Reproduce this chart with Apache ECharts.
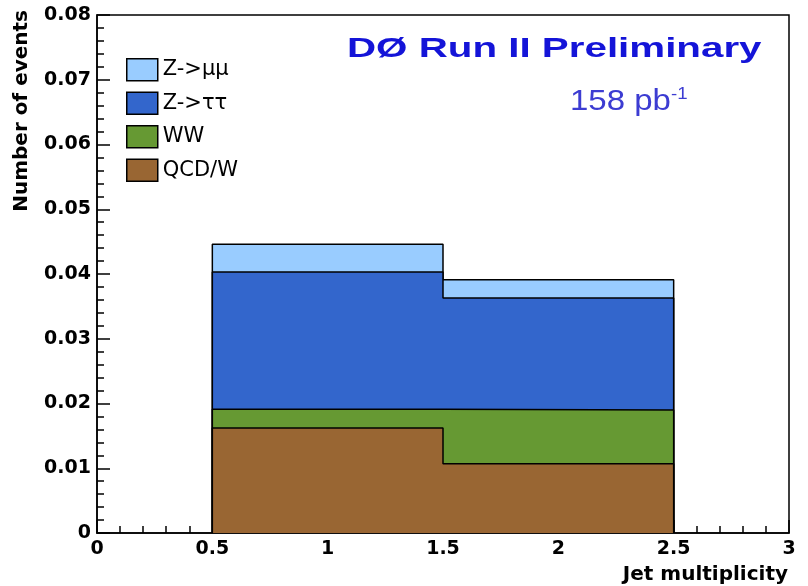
<!DOCTYPE html>
<html lang="en">
<head>
<meta charset="UTF-8">
<title>Jet multiplicity</title>
<script src="https://cdn.jsdelivr.net/npm/echarts@6/dist/echarts.min.js"></script>
<style>
  html, body { margin: 0; padding: 0; background: #fff; }
</style>
</head>
<body>
<div id="main" style="width: 808px;height: 586px"></div>
<script>
// bin edges of the histogram (jet multiplicity)
var binEdges = [0.5, 1.5, 2.5];
// per-bin contributions, bottom of the stack first
var qcdW    = [0.0162, 0.0107];
var ww      = [0.0029, 0.0083];
var zTauTau = [0.0212, 0.0173];
var zMuMu   = [0.0043, 0.0028];

var names  = ['Z->\u03bc\u03bc', 'Z->\u03c4\u03c4', 'WW', 'QCD/W'];
var colors = ['#99ccff', '#3366cc', '#669933', '#996633'];

// cumulative sums, like a THStack
function addArr(a, b) { return a.map(function (v, i) { return v + b[i]; }); }
var cumQcd = qcdW;
var cumWW  = addArr(cumQcd, ww);
var cumTau = addArr(cumWW, zTauTau);
var cumMu  = addArr(cumTau, zMuMu);

// outline of a histogram drawn from zero
function stepPoints(h) {
    var pts = [[binEdges[0], 0]];
    for (var i = 0; i < h.length; i++) {
        pts.push([binEdges[i], h[i]]);
        pts.push([binEdges[i + 1], h[i]]);
    }
    pts.push([binEdges[h.length], 0]);
    return pts;
}

var stacks = [cumMu, cumTau, cumWW, cumQcd];
var series = stacks.map(function (h, k) {
    return {
        name: names[k],
        type: 'line',
        data: stepPoints(h),
        symbol: 'none',
        itemStyle: { color: colors[k] },
        lineStyle: { color: '#000', width: 1.5 },
        areaStyle: { color: colors[k], opacity: 1 },
        z: 2 + k
    };
});

var tickFont = { color: '#000', fontFamily: 'DejaVu Sans', fontWeight: 'bold', fontSize: 19 };

var option = {
    backgroundColor: '#fff',
    animation: false,
    grid: {
        left: 97, right: 19, top: 15, bottom: 53,
        show: true, borderColor: '#000', borderWidth: 1.5
    },
    legend: {
        orient: 'vertical',
        left: 121, top: 53,
        itemWidth: 31, itemHeight: 22, itemGap: 10,
        icon: 'rect',
        selectedMode: false,
        data: names.map(function (n, k) {
            return { name: n, itemStyle: { color: colors[k], borderColor: '#000', borderWidth: 1.5 } };
        }),
        textStyle: { color: '#000', fontFamily: 'DejaVu Sans', fontSize: 21 }
    },
    xAxis: {
        type: 'value',
        min: 0, max: 3, interval: 0.5,
        axisLine: { onZero: false, lineStyle: { color: '#000', width: 1.5 } },
        axisTick: { inside: true, length: 13, lineStyle: { color: '#000', width: 1.5 } },
        minorTick: { show: true, splitNumber: 5, length: 7, lineStyle: { color: '#000', width: 1.5 } },
        splitLine: { show: false },
        axisLabel: Object.assign({ margin: 7, formatter: function (v) { return String(v); } }, tickFont)
    },
    yAxis: {
        type: 'value',
        min: 0, max: 0.08, interval: 0.01,
        axisLine: { show: true, lineStyle: { color: '#000', width: 1.5 } },
        axisTick: { show: true, inside: true, length: 13, lineStyle: { color: '#000', width: 1.5 } },
        minorTick: { show: true, splitNumber: 5, length: 7, lineStyle: { color: '#000', width: 1.5 } },
        splitLine: { show: false },
        axisLabel: Object.assign({ margin: 6, formatter: function (v) { return v === 0 ? '0' : v.toFixed(2); } }, tickFont)
    },
    graphic: [
        {
            type: 'text', x: 22, y: 10, rotation: Math.PI / 2,
            style: { text: 'Number of events', fill: '#000', font: 'bold 20px "DejaVu Sans"', textAlign: 'right', textVerticalAlign: 'middle' }
        },
        {
            type: 'text', x: 788, y: 575,
            style: { text: 'Jet multiplicity', fill: '#000', font: 'bold 20px "DejaVu Sans"', textAlign: 'right', textVerticalAlign: 'middle' }
        },
        {
            type: 'text', x: 347, y: 49, scaleX: 1.44,
            style: { text: 'D\u00d8 Run II Preliminary', fill: '#1414d8', font: 'bold 28px "Liberation Sans"', textAlign: 'left', textVerticalAlign: 'middle' }
        },
        {
            type: 'text', x: 570, y: 102, scaleX: 1.1,
            style: {
                text: '{a|158 pb}{s|-1}',
                textAlign: 'left', textVerticalAlign: 'middle',
                rich: {
                    a: { fill: '#3c3cd2', fontFamily: 'Liberation Sans', fontSize: 30 },
                    s: { fill: '#3c3cd2', fontFamily: 'Liberation Sans', fontSize: 17, padding: [0, 0, 16, 0] }
                }
            }
        }
    ],
    series: series
};

var myChart = echarts.init(document.getElementById('main'));
myChart.setOption(option);
</script>
</body>
</html>
